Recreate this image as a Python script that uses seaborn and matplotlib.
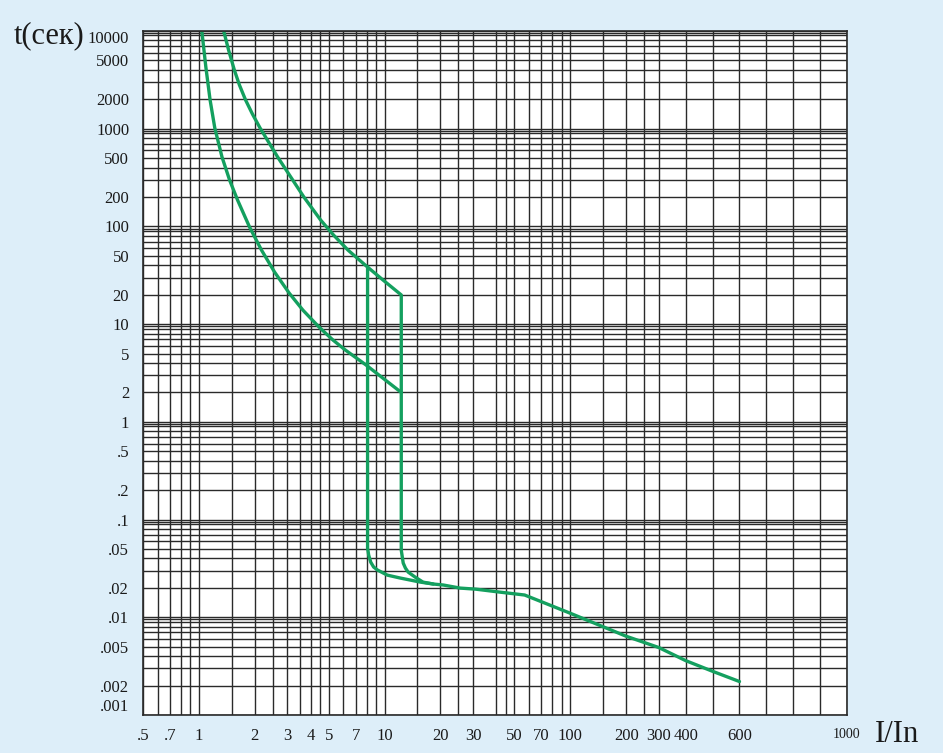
import numpy as np
import matplotlib
matplotlib.use("Agg")
import matplotlib.pyplot as plt
import seaborn as sns

# ---------------- data ----------------
x_tick_values = [0.5, 0.7, 1, 2, 3, 4, 5, 7, 10, 20, 30, 50, 70, 100, 200, 300, 400, 600, 1000]
x_tick_labels = [".5", ".7", "1", "2", "3", "4", "5", "7", "10", "20", "30", "50", "70",
                 "100", "200", "300", "400", "600", "1000"]
x_grid_values = [0.6, 0.8, 0.9, 1.5, 2.5, 3.5, 4.5, 6, 8, 9, 15, 25, 40, 45, 60, 80, 90,
                 150, 250, 500, 700, 800, 900]

y_tick_values = [10000, 5000, 2000, 1000, 500, 200, 100, 50, 20, 10, 5, 2, 1,
                 0.5, 0.2, 0.1, 0.05, 0.02, 0.01, 0.005, 0.002, 0.001]
y_tick_labels = ["10000", "5000", "2000", "1000", "500", "200", "100", "50", "20", "10",
                 "5", "2", "1", ".5", ".2", ".1", ".05", ".02", ".01", ".005", ".002", ".001"]
y_grid_mantissas = [3, 4, 6, 7, 8, 9, 9.5]

# lower thermal curve -> vertical at 12.3 -> magnetic tail
low_x = [1.037, 1.090, 1.149, 1.218, 1.332, 1.463, 1.615, 1.874, 2.173, 2.556, 3.063,
         3.634, 4.437, 5.272, 6.150, 7.96, 12.3,
         12.3, 12.45, 12.6, 12.95, 13.4, 14.6, 16.1, 18.3, 20.7, 25.5, 31, 41.7, 56.8,
         100, 200, 300, 400, 500, 600]
low_t = [10000, 4280, 1968, 1017, 513, 298.5, 186.3, 98.6, 57.3, 34.1, 20.8,
         13.9, 9.33, 6.88, 5.43, 3.81, 2.0,
         0.0487, 0.0417, 0.0359, 0.0319, 0.0290, 0.0258, 0.0229, 0.0219, 0.0214, 0.0199,
         0.0194, 0.0181, 0.0169,
         0.0110, 0.0064, 0.0049, 0.0036, 0.0028, 0.0022]

# upper thermal curve -> vertical at 12.3 down to lower curve
up_x = [1.360, 1.445, 1.552, 1.653, 1.784, 1.942, 2.135, 2.656, 3.675, 4.530, 5.311,
        6.350, 7.857, 9.804, 12.3, 12.3]
up_t = [10000, 6392, 3990, 2801, 1967, 1414, 1017, 513, 200, 116, 81.6,
        57.3, 40.3, 28.3, 19.9, 2.0]

# instantaneous release vertical at 8.1
inst_x = [8.1, 8.1, 8.21, 8.42, 8.73, 9.17, 10.35, 12.16, 15.6, 18.3]
inst_t = [38.5, 0.0511, 0.0433, 0.0367, 0.0327, 0.0304, 0.0270, 0.0252, 0.0229, 0.0219]

# ---------------- style ----------------
sns.set_theme(style="white")
plt.rcParams["font.family"] = ["Liberation Serif", "DejaVu Serif"]

BG = "#ddeef9"
GRID = "#2a2a2a"
GREEN = "#14a05f"
TXT = "#1a1a1a"

fig = plt.figure(figsize=(9.43, 7.53), dpi=100, facecolor=BG)
ax = fig.add_axes([143 / 943, 1 - 715 / 753, 704 / 943, 684 / 753])
ax.set_facecolor("white")

LN10 = np.log(10.0)
X_BREAK = 300.0


def fwd(x):
    x = np.asarray(x, dtype=float)
    xs = np.clip(x, 1e-12, None)
    return np.where(x <= X_BREAK, np.log10(xs),
                    np.log10(X_BREAK) + (x - X_BREAK) / (X_BREAK * LN10))


def inv(v):
    v = np.asarray(v, dtype=float)
    lb = np.log10(X_BREAK)
    return np.where(v <= lb, 10.0 ** np.minimum(v, lb),
                    X_BREAK + (v - lb) * X_BREAK * LN10)


ax.set_xscale("function", functions=(fwd, inv))
ax.set_yscale("log")
ax.set_xlim(0.5, 1000)
ax.set_ylim(0.001, 10000)

# grid
ax.set_xticks(x_tick_values)
ax.set_xticklabels(x_tick_labels)
ax.set_xticks(x_grid_values, minor=True)
ax.set_yticks(y_tick_values)
ax.set_yticklabels(y_tick_labels)
y_minor = [m * 10.0 ** k for k in range(-3, 4) for m in y_grid_mantissas]
ax.set_yticks(y_minor, minor=True)
ax.tick_params(which="both", length=0)
ax.tick_params(axis="x", which="major", pad=9, labelsize=12, labelcolor=TXT)
ax.tick_params(axis="y", which="major", pad=10, labelsize=12, labelcolor=TXT)
ax.grid(True, which="both", color=GRID, linewidth=1.0)
ax.set_axisbelow(True)
for s in ax.spines.values():
    s.set_color(GRID)
    s.set_linewidth(1.2)

for lab in ax.get_xticklabels():
    if lab.get_text() == "1000":
        lab.set_fontsize(10)
for lab in ax.get_yticklabels():
    if lab.get_text() == ".001":
        lab.set_va("bottom")
    if lab.get_text() == "10000":
        lab.set_va("top")

# curves
for xs, ts in [(low_x, low_t), (up_x, up_t), (inst_x, inst_t)]:
    sns.lineplot(x=xs, y=ts, sort=False, estimator=None, color=GREEN,
                 linewidth=2.4, ax=ax, legend=False)
for line in ax.get_lines():
    line.set_solid_joinstyle("round")
    line.set_solid_capstyle("round")

ax.set_xlim(0.5, 1000)
ax.set_ylim(0.001, 10000)
ax.set_xlabel("")
ax.set_ylabel("")

fig.text(49 / 943, 1 - 36 / 753, "t(сек)", ha="center", va="center", fontsize=22, color=TXT)
fig.text(897 / 943, 1 - 735 / 753, "I/In", ha="center", va="center", fontsize=22, color=TXT)

fig.savefig("out.png", dpi=100, facecolor=BG)
